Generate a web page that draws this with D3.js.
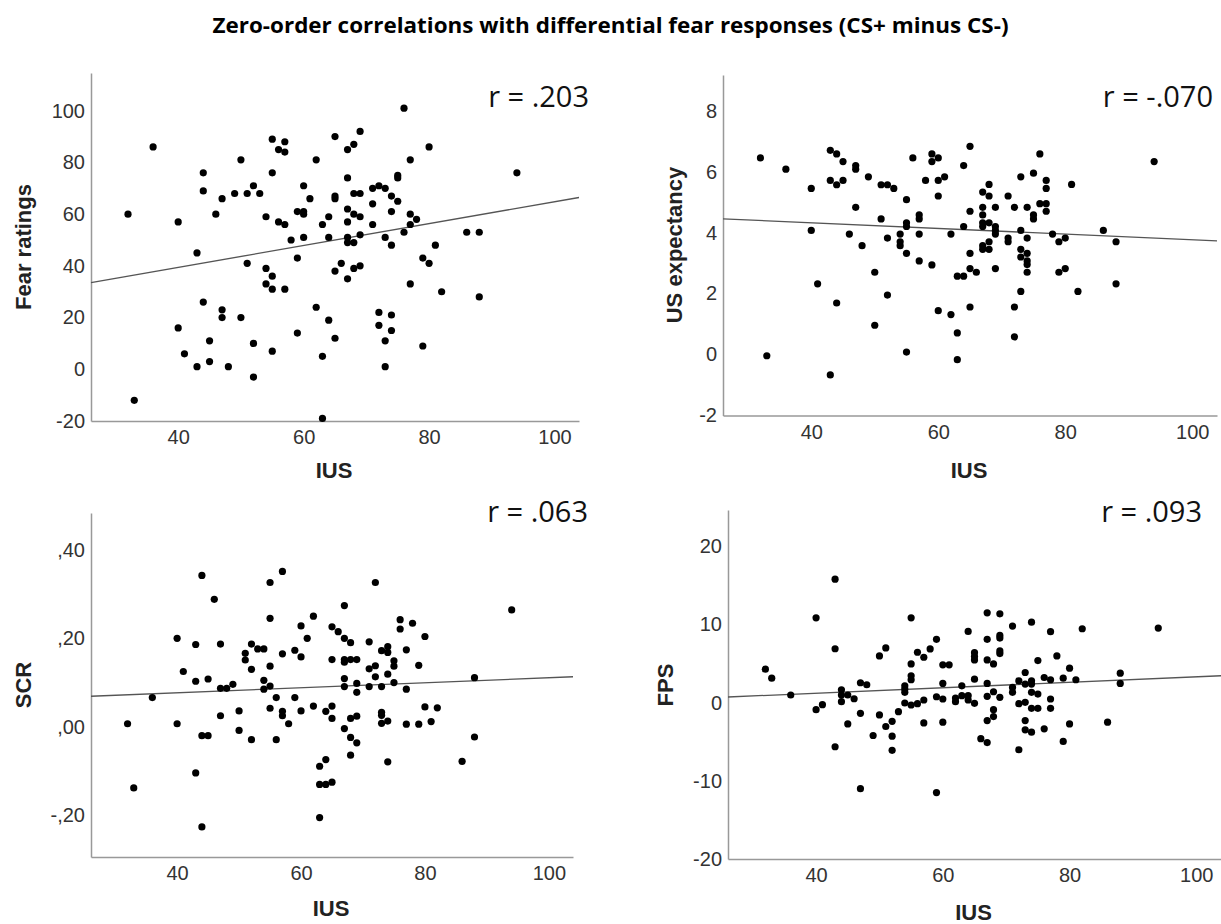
<!DOCTYPE html>
<html>
<head>
<meta charset="utf-8">
<script src="https://cdn.jsdelivr.net/npm/d3@7"></script>
<style>
  body { margin: 0; background: #fff; }
  svg { display: block; }
</style>
</head>
<body>
<svg id="chart" width="1221" height="924"></svg>
<script>
// data: [IUS, response]
var fearPoints = [[32,60],[33,-12],[36,86],[40,57],[40,16],[41,6],[43,45],[43,1],[44,76],[44,69],[44,26],[45,11],[45,3],[46,60],[47,66],[47,23],[47,20],[48,1],[49,68],[50,81],[50,20],[51,68],[51,41],[52,71],[52,10],[52,-3],[53,68],[54,59],[54,39],[54,33],[55,89],[55,76],[55,36],[55,31],[55,7],[56,85],[56,57],[57,88],[57,84],[57,56],[57,31],[58,50],[59,61],[59,43],[59,14],[60,71],[60,61],[60,60],[60,51],[61,66],[62,81],[62,24],[63,56],[63,5],[63,-19],[64,59],[64,51],[64,19],[65,90],[65,67],[65,66],[65,38],[65,12],[66,41],[67,85],[67,74],[67,62],[67,57],[67,51],[67,49],[67,35],[68,87],[68,68],[68,60],[68,49],[68,39],[69,92],[69,68],[69,59],[69,52],[69,40],[71,70],[71,64],[71,56],[72,71],[72,22],[72,17],[73,70],[73,51],[73,11],[73,1],[74,67],[74,61],[74,48],[74,21],[74,15],[75,75],[75,74],[75,65],[76,101],[76,53],[77,81],[77,60],[77,56],[77,33],[78,58],[79,43],[79,9],[80,86],[80,41],[81,48],[82,30],[86,53],[88,53],[88,28],[94,76]];

var usPoints = [[32,6.45],[33,-0.04],[36,6.08],[40,5.45],[40,4.07],[41,2.32],[43,6.7],[43,5.71],[43,-0.67],[44,6.58],[44,5.57],[44,1.69],[45,6.33],[45,5.71],[46,3.95],[47,6.2],[47,6.08],[47,4.83],[48,3.57],[49,5.83],[50,2.7],[50,0.96],[51,5.57],[51,4.45],[52,5.57],[52,3.82],[52,1.95],[53,5.45],[54,3.95],[54,3.7],[54,3.57],[55,5.08],[55,4.32],[55,4.2],[55,3.32],[55,0.08],[56,6.45],[57,4.58],[57,4.45],[57,3.95],[57,3.07],[58,5.71],[59,6.58],[59,6.33],[59,2.94],[60,6.45],[60,5.71],[60,5.2],[60,1.44],[61,5.83],[62,3.95],[62,1.31],[63,2.57],[63,0.71],[63,-0.17],[64,6.2],[64,4.2],[64,2.57],[65,6.83],[65,4.7],[65,3.32],[65,2.82],[65,1.56],[66,2.7],[67,5.33],[67,4.83],[67,4.58],[67,4.32],[67,4.2],[67,3.57],[67,3.45],[68,5.58],[68,5.2],[68,4.32],[68,3.7],[68,3.45],[69,4.83],[69,4.2],[69,4.07],[69,3.95],[69,2.82],[71,5.2],[71,3.82],[71,3.7],[72,4.83],[72,1.56],[72,0.58],[73,5.83],[73,4.07],[73,3.45],[73,3.2],[73,2.07],[74,4.83],[74,3.82],[74,3.32],[74,3.07],[74,2.95],[74,2.7],[75,5.95],[75,4.58],[75,4.45],[76,6.58],[76,4.95],[77,5.71],[77,5.45],[77,4.95],[77,4.7],[78,3.95],[79,3.7],[79,2.7],[80,3.82],[80,2.82],[81,5.58],[82,2.07],[86,4.07],[88,3.7],[88,2.32],[94,6.33]];

var scrPoints = [[32,0.007],[33,-0.138],[36,0.066],[40,0.2],[40,0.007],[41,0.125],[43,0.186],[43,0.103],[43,-0.104],[44,0.342],[44,-0.02],[44,-0.226],[45,0.108],[45,-0.02],[46,0.288],[47,0.187],[47,0.087],[47,0.025],[48,0.087],[49,0.096],[50,0.036],[50,-0.008],[51,0.166],[51,0.151],[52,0.187],[52,0.13],[52,-0.029],[53,0.176],[54,0.176],[54,0.105],[54,0.085],[55,0.326],[55,0.245],[55,0.137],[55,0.092],[55,0.042],[56,0.066],[56,-0.029],[57,0.351],[57,0.165],[57,0.035],[57,0.025],[58,0.007],[59,0.173],[59,0.066],[60,0.228],[60,0.158],[60,0.036],[61,0.2],[62,0.25],[62,0.047],[63,-0.089],[63,-0.13],[63,-0.205],[64,0.035],[64,-0.074],[64,-0.13],[65,0.226],[65,0.152],[65,0.047],[65,0.019],[65,-0.125],[66,0.215],[67,0.274],[67,0.2],[67,0.152],[67,0.146],[67,0.109],[67,0.091],[67,-0.004],[68,0.19],[68,0.152],[68,0.019],[68,-0.024],[68,-0.064],[69,0.152],[69,0.098],[69,0.078],[69,0.024],[69,-0.036],[71,0.192],[71,0.131],[71,0.091],[72,0.326],[72,0.138],[72,0.113],[73,0.172],[73,0.091],[73,0.033],[73,0.026],[73,0.008],[74,0.181],[74,0.168],[74,0.119],[74,0.013],[74,-0.079],[75,0.149],[75,0.137],[75,0.1],[76,0.242],[76,0.221],[77,0.174],[77,0.085],[77,0.006],[78,0.234],[79,0.139],[79,0.006],[80,0.204],[80,0.045],[81,0.012],[82,0.043],[86,-0.078],[88,0.111],[88,-0.023],[94,0.264]];

var fpsPoints = [[32,4.28],[33,3.14],[36,0.98],[40,10.86],[40,-0.89],[41,-0.25],[43,15.8],[43,6.9],[43,-5.64],[44,1.65],[44,0.98],[44,0.13],[45,0.98],[45,-2.72],[46,0.5],[47,2.55],[47,-1.36],[47,-11],[48,2.29],[49,-4.2],[50,5.98],[50,-1.57],[51,7],[51,-3.05],[52,-2.38],[52,-4.28],[52,-6.1],[53,-1.15],[54,2.16],[54,1.74],[54,1.32],[54,-0.04],[55,10.86],[55,4.96],[55,3.44],[55,2.93],[55,-0.3],[56,6.45],[56,-0.13],[57,5.81],[57,0.34],[57,-2.59],[58,6.87],[59,8.1],[59,0.76],[59,-11.5],[60,4.84],[60,2.46],[60,0.47],[60,-2.5],[61,4.84],[62,0.59],[62,0.13],[63,2.16],[63,0.89],[64,9.12],[64,0.89],[64,0.34],[65,6.4],[65,5.9],[65,5.47],[65,3.0],[65,-0.08],[66,-4.6],[67,11.5],[67,8.1],[67,5.47],[67,2.46],[67,0.81],[67,-2.29],[67,-5.1],[68,4.96],[68,1.4],[68,-0.89],[68,-1.78],[69,11.37],[69,8.6],[69,8.27],[69,6.62],[69,6.28],[69,0.68],[71,9.8],[71,1.95],[71,1.32],[72,2.8],[72,-0.13],[72,-6.02],[73,3.86],[73,2.38],[73,0.04],[73,-2.29],[73,-3.48],[74,10.3],[74,2.8],[74,2.38],[74,1.32],[74,-0.72],[74,-3.78],[75,5.39],[75,1.1],[75,-0.72],[76,3.22],[76,-3.35],[77,9.08],[77,2.93],[77,0.47],[77,-0.72],[78,5.98],[79,3.14],[79,-4.96],[80,4.41],[80,-2.72],[81,2.93],[82,9.46],[86,-2.5],[88,3.78],[88,2.46],[94,9.55]];

// fit lines [intercept, slope], as drawn
var fearFit = [22.5, 0.423];
var usFit = [4.695, -0.0093];
var scrFit = [0.0543, 0.000566];
var fpsFit = [-0.19, 0.035];

var rLabels = ["r = .203", "r = -.070", "r = .063", "r = .093"];
var yLabels = ["Fear ratings", "US expectancy", "SCR", "FPS"];
var xTicks = [40, 60, 80, 100];
var fearTicks = [-20, 0, 20, 40, 60, 80, 100];
var usTicks = [-2, 0, 2, 4, 6, 8];
var scrTicks = [-0.2, 0, 0.2, 0.4];
var fpsTicks = [-20, -10, 0, 10, 20];

var titleText = "Zero-order correlations with differential fear responses (CS+ minus CS-)";

// plain hyphen instead of d3's minus sign
var intFmt = function(v){
	return d3.format("d")(v).replace("\u2212", "-");
};
// comma decimals, SPSS style: ,20  -,20
var commaFmt = function(v){
	var s = Math.abs(v).toFixed(2).replace(/^0\./, ",");
	return (v < 0 ? "-" : "") + s;
};

var panels = [
	{pts: fearPoints, fit: fearFit, ticks: fearTicks, fmt: intFmt,
	 x0: 91, x1: 579, top: 73, bottom: 421, yDom: [-20, 114.6],
	 labX: 23, labY: 247, xlabY: 478, rX: 589, rY: 107},
	{pts: usPoints, fit: usFit, ticks: usTicks, fmt: intFmt,
	 x0: 723, x1: 1217, top: 75, bottom: 415.5, yDom: [-2, 9.17],
	 labX: 674, labY: 245, xlabY: 478, rX: 1213, rY: 107},
	{pts: scrPoints, fit: scrFit, ticks: scrTicks, fmt: commaFmt,
	 x0: 91, x1: 573, top: 513, bottom: 857, yDom: [-0.294, 0.483],
	 labX: 23, labY: 685, xlabY: 916, rX: 588, rY: 522},
	{pts: fpsPoints, fit: fpsFit, ticks: fpsTicks, fmt: intFmt,
	 x0: 728, x1: 1221, top: 510, bottom: 859, yDom: [-20, 24.65],
	 labX: 665, labY: 685, xlabY: 920, rX: 1202, rY: 522}
];

var xDom = [26.1, 103.9];
var svg = d3.select("#chart");

svg.append("text")
	.attr("x", 610.5)
	.attr("y", 33)
	.attr("text-anchor", "middle")
	.attr("font-family", "'Open Sans', sans-serif")
	.attr("font-weight", "bold")
	.attr("font-size", "22px")
	.attr("textLength", 796)
	.attr("lengthAdjust", "spacingAndGlyphs")
	.attr("fill", "#000")
	.text(titleText);

panels.forEach(function(p, i){
	var x = d3.scaleLinear().domain(xDom).range([p.x0, p.x1]);
	var y = d3.scaleLinear().domain(p.yDom).range([p.bottom, p.top]);
	var g = svg.append("g").attr("class", "panel" + i);

	// axes
	var ax = g.append("g")
		.attr("transform", "translate(0," + p.bottom + ")")
		.call(d3.axisBottom(x).tickValues(xTicks).tickSize(0).tickPadding(9).tickSizeOuter(0));
	var ay = g.append("g")
		.attr("transform", "translate(" + p.x0 + ",0)")
		.call(d3.axisLeft(y).tickValues(p.ticks).tickFormat(p.fmt).tickSize(0).tickPadding(6).tickSizeOuter(0));

	[ax, ay].forEach(function(a){
		a.select(".domain").attr("stroke", "#999").attr("stroke-width", 1.5);
		a.selectAll("text")
			.attr("font-family", "'Liberation Sans', Arial, sans-serif")
			.attr("font-size", "20px")
			.attr("fill", "#333");
	});

	// fit line
	var line = d3.line()
		.x(function(d){ return x(d); })
		.y(function(d){ return y(p.fit[0] + p.fit[1] * d); });
	g.append("path")
		.attr("d", line(xDom))
		.attr("fill", "none")
		.attr("stroke", "#555")
		.attr("stroke-width", 1.3);

	// dots
	g.selectAll("circle")
		.data(p.pts)
		.enter()
		.append("circle")
		.attr("cx", function(d){ return x(d[0]); })
		.attr("cy", function(d){ return y(d[1]); })
		.attr("r", 3.6)
		.attr("fill", "#000");

	// labels
	g.append("text")
		.attr("transform", "translate(" + p.labX + "," + p.labY + ") rotate(-90)")
		.attr("text-anchor", "middle")
		.attr("dominant-baseline", "central")
		.attr("font-family", "'Liberation Sans', Arial, sans-serif")
		.attr("font-weight", "bold")
		.attr("font-size", "22px")
		.attr("fill", "#222")
		.text(yLabels[i]);

	g.append("text")
		.attr("x", (p.x0 + p.x1) / 2 - 1)
		.attr("y", p.xlabY)
		.attr("text-anchor", "middle")
		.attr("font-family", "'Liberation Sans', Arial, sans-serif")
		.attr("font-weight", "bold")
		.attr("font-size", "22px")
		.attr("fill", "#222")
		.text("IUS");

	g.append("text")
		.attr("x", p.rX)
		.attr("y", p.rY)
		.attr("text-anchor", "end")
		.attr("font-family", "'Open Sans', sans-serif")
		.attr("font-size", "29px")
		.attr("fill", "#111")
		.text(rLabels[i]);
});
</script>
</body>
</html>
